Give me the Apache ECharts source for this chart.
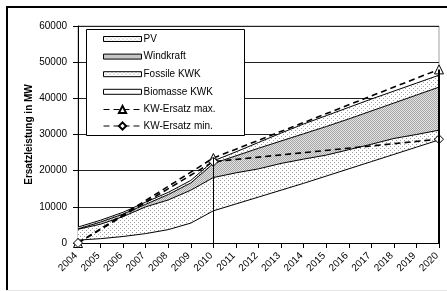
<!DOCTYPE html>
<html>
<head>
<meta charset="utf-8">
<script src="https://cdn.jsdelivr.net/npm/echarts@6/dist/echarts.min.js"></script>
<style>
  html, body { margin: 0; padding: 0; background: #fff; }
  #main { width: 447px; height: 291px; }
</style>
</head>
<body>
<div id="main"></div>
<script>
// Jahre (x-Achse)
const years = ['2004','2005','2006','2007','2008','2009','2010','2011','2012',
               '2013','2014','2015','2016','2017','2018','2019','2020'];

// gestapelte Flächen (MW), von unten nach oben
const biomasse = [800,1200,1800,2600,3700,5500,8900,10800,12700,14600,16500,18500,20500,22500,24500,26500,28500];
const fossile  = [3000,4000,5500,7400,8200,9100,9200,8600,7800,7400,6700,5800,5300,4800,4400,3500,2700];
const windkraft = [100,600,700,700,1500,2000,3900,4700,5700,6200,7000,7900,8500,9200,9800,10900,11900];
const pv       = [500,500,500,600,600,700,700,1100,1600,2200,2700,3000,3200,3300,3300,3300,3300];

// KW-Ersatz, nur Stützjahre 2004 / 2010 / 2020
const ersatzMax = [0,null,null,null,null,null,23500,null,null,null,null,null,null,null,null,null,48000];
const ersatzMin = [0,null,null,null,null,null,22500,null,null,null,null,null,null,null,null,null,28700];

// senkrechte Linien bei diesen Jahren (bis KW-Ersatz max.)
const dropYears = ['2010','2020'];

const yTicks = [0, 60000, 10000]; // min, max, interval

function dots(bg, fg, size, pts) {
  const c = document.createElement('canvas');
  c.width = size; c.height = size;
  const g = c.getContext('2d');
  g.fillStyle = bg; g.fillRect(0, 0, size, size);
  g.fillStyle = fg;
  pts.forEach(p => g.fillRect(p[0], p[1], 1, 1));
  return { image: c, repeat: 'repeat' };
}
const fillFossil = dots('#ffffff', '#9a9a9a', 4, [[0,0],[2,2]]);
const fillWind   = dots('#e2e2e2', '#a8a8a8', 2, [[0,0],[1,1]]);
const fillPV     = dots('#ffffff', '#a0a0a0', 4, [[1,0],[3,2]]);

const font = 'Liberation Sans, Arial, sans-serif';
const chart = echarts.init(document.getElementById('main'), null, { renderer: 'canvas' });

function area(name, data, fill) {
  return {
    name: name, type: 'line', stack: 'kw', data: data,
    symbol: 'none', showSymbol: false,
    lineStyle: { color: '#000', width: 1 },
    itemStyle: { color: fill, borderColor: '#000' },
    areaStyle: { color: fill, opacity: 1 },
    emphasis: { disabled: true }, z: 2
  };
}

const option = {
  animation: false,
  backgroundColor: '#fff',
  textStyle: { fontFamily: font },
  grid: { left: 78, right: 8, top: 26, bottom: 48, show: true, borderColor: '#a0a0a0', borderWidth: 1 },
  graphic: [
    { type: 'line', shape: { x1: 6, y1: 7, x2: 447, y2: 7 }, style: { stroke: '#000', lineWidth: 2 }, z: 10 },
    { type: 'line', shape: { x1: 7, y1: 6, x2: 7, y2: 291 }, style: { stroke: '#000', lineWidth: 2 }, z: 10 },
    { type: 'line', shape: { x1: 6, y1: 290.5, x2: 447, y2: 290.5 }, style: { stroke: '#e4e4e4', lineWidth: 1 }, z: 10 },
    { type: 'rect', shape: { x: 86.5, y: 29.5, width: 158, height: 106 }, style: { fill: '#fff', stroke: '#000', lineWidth: 1 }, z: 3 }
  ],
  legend: [
    {
      orient: 'vertical', left: 103, top: 34, padding: 0, itemGap: 7.6,
      itemWidth: 38, itemHeight: 5, z: 5,
      textStyle: { fontFamily: font, fontSize: 10, color: '#000', padding: [0,0,0,-3] },
      data: [
        { name: 'PV', icon: 'rect', itemStyle: { color: fillPV, borderColor: '#000', borderWidth: 1 } },
        { name: 'Windkraft', icon: 'rect', itemStyle: { color: fillWind, borderColor: '#000', borderWidth: 1 } },
        { name: 'Fossile KWK', icon: 'rect', itemStyle: { color: fillFossil, borderColor: '#000', borderWidth: 1 } },
        { name: 'Biomasse KWK', icon: 'rect', itemStyle: { color: '#fff', borderColor: '#000', borderWidth: 1 } }
      ]
    },
    {
      orient: 'vertical', left: 103, top: 104.5, padding: 0, itemGap: 6.5,
      itemWidth: 38, itemHeight: 9, z: 5,
      lineStyle: { width: 1 },
      textStyle: { fontFamily: font, fontSize: 10, color: '#000', padding: [0,0,0,-3] },
      data: ['KW-Ersatz max.', 'KW-Ersatz min.']
    }
  ],
  xAxis: {
    type: 'category', data: years, boundaryGap: false,
    axisLine: { lineStyle: { color: '#000', width: 1 } },
    axisTick: { show: true, length: 5, interval: 0, lineStyle: { color: '#000' } },
    axisLabel: { rotate: 45, interval: 0, fontSize: 10, color: '#000', margin: 9, padding: [0, 3, 0, 0], fontFamily: font },
    splitLine: { show: false }
  },
  yAxis: {
    type: 'value', min: yTicks[0], max: yTicks[1], interval: yTicks[2],
    name: 'Ersatzleistung in MW', nameLocation: 'middle', nameGap: 44, nameMoveOverlap: false,
    nameTextStyle: { fontFamily: font, fontSize: 10, fontWeight: 'bold', color: '#000' },
    axisLine: { show: true, lineStyle: { color: '#000', width: 1 } },
    axisTick: { show: true, length: 5, lineStyle: { color: '#000' } },
    axisLabel: { fontSize: 10, color: '#000', margin: 11, fontFamily: font, formatter: v => String(v) },
    splitLine: { show: true, lineStyle: { color: '#222', width: 1 } }
  },
  series: [
    area('Biomasse KWK', biomasse, '#ffffff'),
    area('Fossile KWK', fossile, fillFossil),
    area('Windkraft', windkraft, fillWind),
    area('PV', pv, fillPV),
    {
      name: 'KW-Ersatz max.', type: 'line', data: ersatzMax, connectNulls: true,
      symbol: 'triangle', symbolSize: 9, showAllSymbol: true,
      lineStyle: { color: '#000', width: 1.6, type: [6, 4] },
      itemStyle: { color: '#fff', borderColor: '#000', borderWidth: 1 },
      emphasis: { disabled: true }, z: 4,
      markLine: {
        silent: true, symbol: 'none', label: { show: false },
        data: dropYears.map((y, i) => [
          { coord: [y, 0], lineStyle: { color: '#000', width: i === 0 ? 1 : 2, type: 'solid' } },
          { coord: [y, ersatzMax[years.indexOf(y)]] }
        ])
      }
    },
    {
      name: 'KW-Ersatz min.', type: 'line', data: ersatzMin, connectNulls: true,
      symbol: 'diamond', symbolSize: 9, showAllSymbol: true,
      lineStyle: { color: '#000', width: 1.6, type: [6, 4] },
      itemStyle: { color: '#fff', borderColor: '#000', borderWidth: 1 },
      emphasis: { disabled: true }, z: 4
    }
  ]
};
chart.setOption(option);
</script>
</body>
</html>
